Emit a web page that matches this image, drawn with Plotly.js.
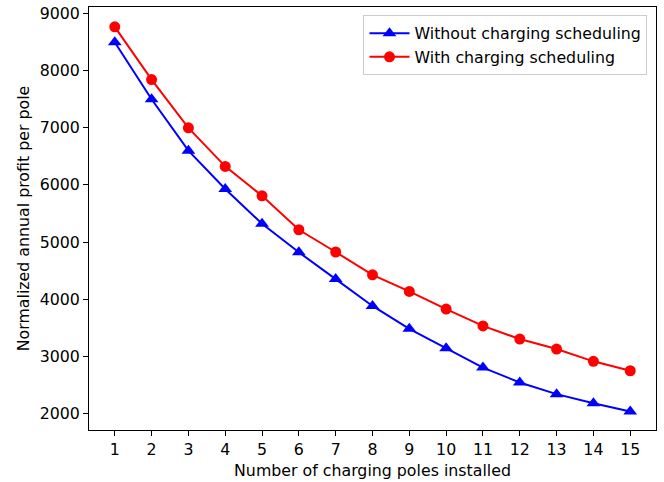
<!DOCTYPE html>
<html>
<head>
<meta charset="utf-8">
<script src="https://cdn.plot.ly/plotly-3.0.1.min.js"></script>
<style>body{margin:0;padding:0;background:#fff;} #chart{width:664px;height:482px;}</style>
</head>
<body>
<div id="chart"></div>
<script>
const poles = [1,2,3,4,5,6,7,8,9,10,11,12,13,14,15];
const withoutScheduling = [8500,7500,6600,5930,5320,4820,4350,3880,3480,3140,2800,2540,2335,2175,2030];
const withScheduling = [8770,7845,7000,6325,5810,5215,4825,4425,4135,3825,3530,3300,3125,2910,2745];
const tickLabelsX = poles.map(String);
const yTicks = [2000,3000,4000,5000,6000,7000,8000,9000];

const font = {family: 'DejaVu Sans, sans-serif', size: 15.8, color: '#000'};

const traces = [
  {x: poles, y: withoutScheduling, name: 'Without charging scheduling', type: 'scatter', mode: 'lines+markers',
   line: {color: '#0000ff', width: 2}, marker: {symbol: 'triangle-up', size: 12, color: '#0000ff'}},
  {x: poles, y: withScheduling, name: 'With charging scheduling', type: 'scatter', mode: 'lines+markers',
   line: {color: '#ff0000', width: 2}, marker: {symbol: 'circle', size: 11, color: '#ff0000'}}
];

const layout = {
  width: 664, height: 482,
  margin: {l: 89, r: 8, t: 7, b: 52},
  paper_bgcolor: '#fff', plot_bgcolor: '#fff',
  font: font,
  showlegend: true,
  legend: {x: 0.985, y: 0.98, xanchor: 'right', yanchor: 'top', bgcolor: 'rgba(255,255,255,0.8)',
           bordercolor: '#cccccc', borderwidth: 1, font: font, tracegroupgap: 0, itemwidth: 40},
  xaxis: {range: [0.3, 15.7], tickvals: poles, ticktext: tickLabelsX, ticks: 'outside', ticklen: 5, tickcolor: '#000',
          showgrid: false, zeroline: false, showline: true, mirror: true, linecolor: '#000', linewidth: 1,
          tickfont: font, title: {text: 'Number of charging poles installed', font: font, standoff: 6}},
  yaxis: {range: [1707, 9117], tickvals: yTicks, ticks: 'outside', ticklen: 5, tickcolor: '#000',
          showgrid: false, zeroline: false, showline: true, mirror: true, linecolor: '#000', linewidth: 1,
          tickfont: font, title: {text: 'Normalized annual profit per pole', font: font, standoff: 6}}
};

Plotly.newPlot('chart', traces, layout, {displayModeBar: false, staticPlot: true});
</script>
</body>
</html>
